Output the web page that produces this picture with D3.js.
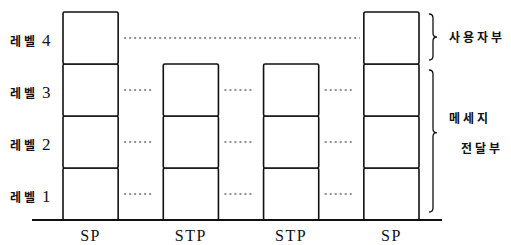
<!DOCTYPE html>
<html>
<head>
<meta charset="utf-8">
<script src="https://cdn.jsdelivr.net/npm/d3@7"></script>
<style>
  body { margin: 0; background: #fff; }
  svg { display: block; }
  text { fill: #111; }
</style>
</head>
<body>
<div id="chart"></div>
<script>
var width = 511, height = 245;

// data
var nodes = ["SP", "STP", "STP", "SP"];
var nodeLevels = [4, 3, 3, 4];
var levelNames = ["레벨", "레벨", "레벨", "레벨"];
var levelNums = ["1", "2", "3", "4"];
var groups = [
  {name: ["사용자부"], from: 3, to: 4},
  {name: ["메세지", "전달부"], from: 0, to: 3}
];

var svg = d3.select("#chart").append("svg")
    .attr("width", width)
    .attr("height", height);

var x = d3.scaleBand()
    .domain(d3.range(nodes.length))
    .range([63, 419])
    .paddingInner(0.45)
    .paddingOuter(0);

var y = d3.scaleLinear()
    .domain([0, 4])
    .range([220, 12]);

var serif = "'Liberation Serif', 'Noto Sans CJK KR', serif";
var hangul = "'Noto Sans CJK KR', sans-serif";

// dotted lines between the stacks
var gaps = d3.range(nodes.length - 1);
[1, 2, 3].forEach(function (lv) {
    svg.append("g")
        .selectAll("line")
        .data(gaps)
        .enter().append("line")
        .attr("x1", function (i) { return x(i) + x.bandwidth() + 6; })
        .attr("x2", function (i) { return x(i + 1) - 12; })
        .attr("y1", y(lv - 0.5))
        .attr("y2", y(lv - 0.5))
        .attr("stroke", "#222")
        .attr("stroke-width", 1)
        .attr("stroke-dasharray", "2,3");
});
// level 4 spans only between the SPs
svg.append("line")
    .attr("x1", x(0) + x.bandwidth() + 6)
    .attr("x2", x(nodes.length - 1) - 4)
    .attr("y1", y(3.5))
    .attr("y2", y(3.5))
    .attr("stroke", "#222")
    .attr("stroke-width", 1)
    .attr("stroke-dasharray", "2,3");

// stacks
nodes.forEach(function (n, i) {
    var g = svg.append("g");
    g.selectAll("rect")
        .data(d3.range(nodeLevels[i]))
        .enter().append("rect")
        .attr("x", x(i))
        .attr("y", function (l) { return y(l + 1); })
        .attr("width", x.bandwidth())
        .attr("height", function (l) { return y(l) - y(l + 1); })
        .attr("rx", 1.5)
        .attr("fill", "#fff")
        .attr("stroke", "#111")
        .attr("stroke-width", 1.6);
});

// baseline
svg.append("line")
    .attr("x1", 32)
    .attr("x2", 442)
    .attr("y1", y(0))
    .attr("y2", y(0))
    .attr("stroke", "#111")
    .attr("stroke-width", 2);

// node labels
svg.append("g")
    .selectAll("text")
    .data(nodes)
    .enter().append("text")
    .attr("x", function (d, i) { return x(i) + x.bandwidth() / 2; })
    .attr("y", 241)
    .attr("text-anchor", "middle")
    .style("font-family", serif)
    .style("font-size", "16px")
    .style("letter-spacing", "1.5px")
    .text(function (d) { return d; });

// level labels
var lab = svg.append("g")
    .selectAll("text")
    .data(levelNames)
    .enter().append("text")
    .attr("x", 10)
    .attr("y", function (d, i) { return y(i + 0.5) + 8; });
lab.append("tspan")
    .style("font-family", hangul)
    .style("font-size", "12px")
    .style("font-weight", "bold")
    .style("letter-spacing", "3px")
    .text(function (d) { return d; });
lab.append("tspan")
    .attr("dx", 4)
    .style("font-family", serif)
    .style("font-size", "17px")
    .text(function (d, i) { return levelNums[i]; });

// braces
function brace(bx, y0, y1, ym, w) {
    var r = 4;
    return "M" + bx + "," + y0 +
        " Q" + (bx + w) + "," + y0 + " " + (bx + w) + "," + (y0 + r) +
        " L" + (bx + w) + "," + (ym - r) +
        " Q" + (bx + w) + "," + ym + " " + (bx + 2 * w) + "," + ym +
        " Q" + (bx + w) + "," + ym + " " + (bx + w) + "," + (ym + r) +
        " L" + (bx + w) + "," + (y1 - r) +
        " Q" + (bx + w) + "," + y1 + " " + bx + "," + y1;
}
var bx = x.range()[1] + 10;
groups.forEach(function (gr, k) {
    var y0 = y(gr.to) + (k === 0 ? 2 : 6);
    var y1 = y(gr.from) - (k === 0 ? 4 : 8);
    var ym = k === 0 ? (y0 + y1) / 2 : y(gr.from + (gr.to - gr.from) * 0.56);
    svg.append("path")
        .attr("d", brace(bx, y0, y1, ym, 4))
        .attr("fill", "none")
        .attr("stroke", "#111")
        .attr("stroke-width", 1.3);
    gr.name.forEach(function (t, j) {
        svg.append("text")
            .attr("x", bx + 20 + (k === 1 && j === 1 ? 12 : 0))
            .attr("y", ym + (gr.name.length === 1 ? 5 : (j === 0 ? -10 : 20)))
            .style("font-family", hangul)
            .style("font-size", "12px")
            .style("font-weight", "bold")
            .style("letter-spacing", "3px")
            .text(t);
    });
});
</script>
</body>
</html>
